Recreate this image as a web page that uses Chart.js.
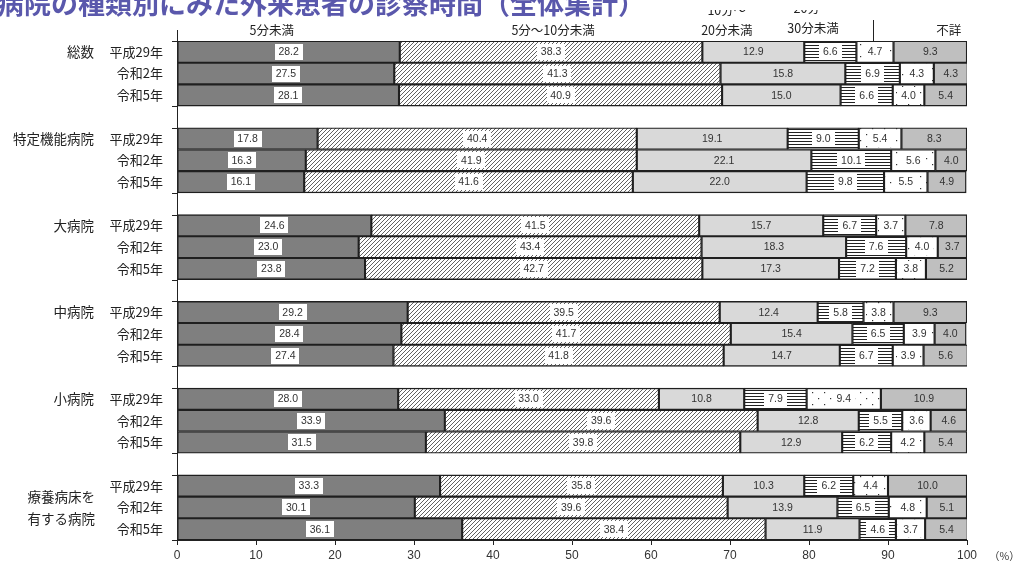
<!DOCTYPE html>
<html lang="ja">
<head>
<meta charset="utf-8">
<title>病院の種類別にみた外来患者の診察時間</title>
<script src="https://cdn.jsdelivr.net/npm/chart.js@4/dist/chart.umd.min.js"></script>
<style>
  html, body { margin: 0; padding: 0; background: #fff; }
  #wrap { width: 1014px; height: 564px; position: relative; }
</style>
</head>
<body>
<div id="wrap"><canvas id="chart"></canvas></div>
<script>
const titleText = '病院の種類別にみた外来患者の診察時間（全体集計）';
const hospitalTypes = ['総数', '特定機能病院', '大病院', '中病院', '小病院', '療養病床を有する病院'];
const surveyYears = ['平成29年', '令和2年', '令和5年'];
const timeBands = ['5分未満', '5分～10分未満', '10分～20分未満', '20分～30分未満', '30分以上', '不詳'];
const xTicks = [0, 10, 20, 30, 40, 50, 60, 70, 80, 90, 100];

// one value per bar: 平成29年, 令和2年, 令和5年 for each hospital type in order
const under5 = [28.2, 27.5, 28.1, 17.8, 16.3, 16.1, 24.6, 23.0, 23.8, 29.2, 28.4, 27.4, 28.0, 33.9, 31.5, 33.3, 30.1, 36.1];
const from5to10 = [38.3, 41.3, 40.9, 40.4, 41.9, 41.6, 41.5, 43.4, 42.7, 39.5, 41.7, 41.8, 33.0, 39.6, 39.8, 35.8, 39.6, 38.4];
const from10to20 = [12.9, 15.8, 15.0, 19.1, 22.1, 22.0, 15.7, 18.3, 17.3, 12.4, 15.4, 14.7, 10.8, 12.8, 12.9, 10.3, 13.9, 11.9];
const from20to30 = [6.6, 6.9, 6.6, 9.0, 10.1, 9.8, 6.7, 7.6, 7.2, 5.8, 6.5, 6.7, 7.9, 5.5, 6.2, 6.2, 6.5, 4.6];
const over30 = [4.7, 4.3, 4.0, 5.4, 5.6, 5.5, 3.7, 4.0, 3.8, 3.8, 3.9, 3.9, 9.4, 3.6, 4.2, 4.4, 4.8, 3.7];
const unknown = [9.3, 4.3, 5.4, 8.3, 4.0, 4.9, 7.8, 3.7, 5.2, 9.3, 4.0, 5.6, 10.9, 4.6, 5.4, 10.0, 5.1, 5.4];

const seriesValues = [under5, from5to10, from10to20, from20to30, over30, unknown];

// headings over the top bar, placed in axis units
const headLines = [['5分未満'], ['5分～10分未満'], ['10分～', '20分未満'], ['20分～', '30分未満'], [], ['不詳']];
const headAt = [12.0, 47.6, 69.6, 80.5, 88.1, 97.7];

const JP = '"Noto Sans CJK JP", "Noto Sans", sans-serif';
const NUM = '"Liberation Sans", Arial, sans-serif';

// categories with an empty slot between hospital types
const rowLabels = [];
const rowIndex = [];
hospitalTypes.forEach((h, g) => {
    surveyYears.forEach(yr => {
        rowIndex.push(rowLabels.length);
        rowLabels.push(yr);
    });
    if (g < hospitalTypes.length - 1) rowLabels.push('');
});

const spread = values => {
    const out = rowLabels.map(() => null);
    values.forEach((v, i) => { out[rowIndex[i]] = v; });
    return out;
};

const makePattern = (w, h, draw) => {
    const c = document.createElement('canvas');
    c.width = w;
    c.height = h;
    const g = c.getContext('2d');
    g.fillStyle = '#fff';
    g.fillRect(0, 0, w, h);
    draw(g);
    return g.createPattern(c, 'repeat');
};

const hatch = makePattern(4, 4, g => {
    g.strokeStyle = '#505050';
    g.lineWidth = 0.9;
    g.beginPath();
    g.moveTo(0, 4); g.lineTo(4, 0);
    g.moveTo(-1, 1); g.lineTo(1, -1);
    g.moveTo(3, 5); g.lineTo(5, 3);
    g.stroke();
});
const stripes = makePattern(4, 3, g => {
    g.fillStyle = '#222';
    g.fillRect(0, 0, 4, 1);
});
const dots = makePattern(12, 12, g => {
    g.fillStyle = '#333';
    g.fillRect(2, 2, 1.2, 1.2);
    g.fillRect(8, 8, 1.2, 1.2);
});

const fills = ['#7f7f7f', hatch, '#d9d9d9', stripes, dots, '#bfbfbf'];
const boxed = [true, true, false, true, true, false];

const overlay = {
    id: 'overlay',
    afterDatasetsDraw(chart) {
        const {ctx} = chart;
        ctx.save();
        ctx.textAlign = 'center';
        ctx.textBaseline = 'middle';
        ctx.font = '10.5px ' + NUM;
        chart.data.datasets.forEach((ds, i) => {
            chart.getDatasetMeta(i).data.forEach((bar, j) => {
                const v = ds.data[j];
                if (v == null) return;
                const cx = (bar.x + bar.base) / 2;
                const txt = v.toFixed(1);
                if (boxed[i]) {
                    const w = Math.round(ctx.measureText(txt).width + 8);
                    ctx.fillStyle = '#fff';
                    ctx.fillRect(Math.round(cx - w / 2), Math.round(bar.y - 8), w, 16);
                }
                ctx.fillStyle = '#333';
                ctx.fillText(txt, cx, bar.y + 0.5);
            });
        });
        ctx.restore();
    },
    afterDraw(chart) {
        const {ctx, chartArea, scales: {x, y}} = chart;
        const slot = y.getPixelForValue(1) - y.getPixelForValue(0);
        ctx.save();

        // value axis line runs a little above the first bar
        ctx.strokeStyle = '#222';
        ctx.lineWidth = 1;
        ctx.beginPath();
        ctx.moveTo(chartArea.left + 0.5, 30);
        ctx.lineTo(chartArea.left + 0.5, chartArea.bottom);
        hospitalTypes.forEach((h, g) => {
            const top = y.getPixelForValue(rowIndex[g * 3]) - slot / 2;
            const bottom = y.getPixelForValue(rowIndex[g * 3 + 2]) + slot / 2;
            ctx.moveTo(chartArea.left - 5, Math.round(top) + 0.5);
            ctx.lineTo(chartArea.left, Math.round(top) + 0.5);
            ctx.moveTo(chartArea.left - 5, Math.round(bottom) + 0.5);
            ctx.lineTo(chartArea.left, Math.round(bottom) + 0.5);
        });
        ctx.stroke();

        // hospital type names
        ctx.fillStyle = '#222';
        ctx.font = '13.5px ' + JP;
        ctx.textAlign = 'right';
        ctx.textBaseline = 'middle';
        hospitalTypes.forEach((h, g) => {
            if (h.length > 6) {
                const mid = y.getPixelForValue(rowIndex[g * 3 + 1]);
                ctx.fillText(h.slice(0, 5), 95, mid - 11);
                ctx.fillText(h.slice(5), 95, mid + 11);
            } else {
                ctx.fillText(h, 94, y.getPixelForValue(rowIndex[g * 3]));
            }
        });

        // headings above the top bar
        ctx.textAlign = 'center';
        ctx.font = '12.5px ' + JP;
        headLines.forEach((lines, i) => {
            const hx = x.getPixelForValue(headAt[i]);
            if (!lines.length) {
                ctx.beginPath();
                ctx.moveTo(Math.round(hx) + 0.5, 20);
                ctx.lineTo(Math.round(hx) + 0.5, chartArea.top);
                ctx.stroke();
                return;
            }
            const last = lines.length - 1;
            lines.forEach((t, k) => {
                ctx.fillText(t, hx, (i === 3 ? 28 : 30) - (last - k) * 20);
            });
        });

        // title strip, cut off at the top of the picture
        ctx.fillStyle = '#fff';
        ctx.fillRect(0, 0, chart.width, 10);
        ctx.fillStyle = '#5a58ac';
        ctx.font = 'bold 27px ' + JP;
        ctx.textAlign = 'left';
        ctx.textBaseline = 'alphabetic';
        ctx.fillText(titleText, -3, 14);

        ctx.fillStyle = '#333';
        ctx.font = '10.5px ' + JP;
        ctx.textBaseline = 'middle';
        ctx.fillText('（%）', 989, 556);
        ctx.restore();
    }
};

new Chart(document.getElementById('chart'), {
    type: 'bar',
    data: {
        labels: rowLabels,
        datasets: timeBands.map((name, i) => ({
            label: name,
            data: spread(seriesValues[i]),
            backgroundColor: fills[i],
            borderColor: '#1f1f1f',
            borderWidth: 1.4,
            borderSkipped: false,
            barPercentage: 1,
            categoryPercentage: 1
        }))
    },
    options: {
        indexAxis: 'y',
        responsive: true,
        maintainAspectRatio: false,
        animation: false,
        layout: {padding: {top: 41, right: 47, left: 0, bottom: 0}},
        plugins: {
            legend: {display: false},
            tooltip: {enabled: false}
        },
        scales: {
            x: {
                stacked: true,
                min: 0,
                max: 100,
                afterBuildTicks: s => { s.ticks = xTicks.map(v => ({value: v})); },
                ticks: {color: '#333', padding: 3, font: {size: 12, family: NUM}},
                grid: {drawOnChartArea: false, drawTicks: true, tickLength: 5, color: '#222'},
                border: {display: true, color: '#222', width: 1},
                afterFit: s => { s.height = 24; }
            },
            y: {
                stacked: true,
                grid: {display: false, drawTicks: false},
                border: {display: false},
                ticks: {autoSkip: false, padding: 14, color: '#222', font: {size: 13, family: JP}},
                afterFit: s => { s.width = 177; }
            }
        }
    },
    plugins: [overlay]
});
</script>
</body>
</html>
